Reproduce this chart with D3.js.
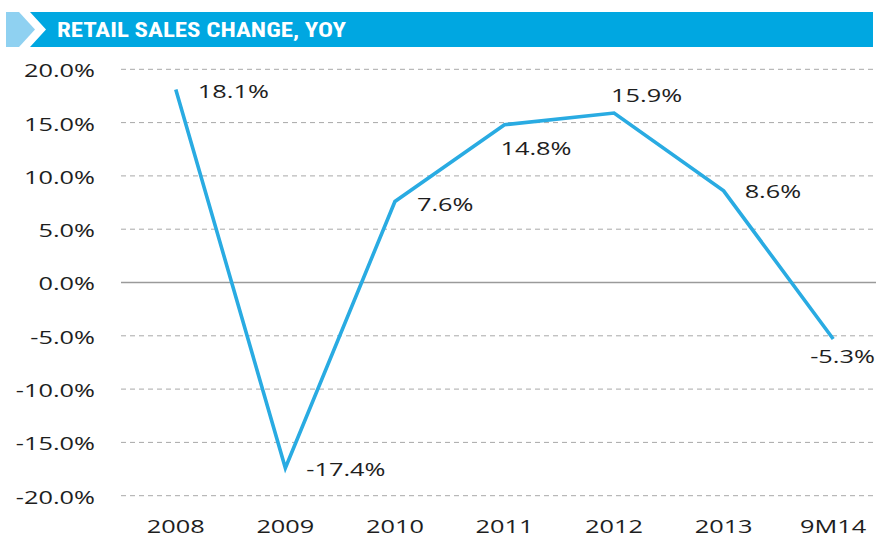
<!DOCTYPE html>
<html>
<head>
<meta charset="utf-8">
<script src="https://cdn.jsdelivr.net/npm/d3@7"></script>
<style>
  html, body { margin: 0; padding: 0; background: #fff; }
  svg { display: block; }
</style>
</head>
<body>
<div id="chart"></div>
<script>
(function () {
  'use strict';

  // Data
  var categories = ['2008', '2009', '2010', '2011', '2012', '2013', '9M14'];
  var values = [18.1, -17.4, 7.6, 14.8, 15.9, 8.6, -5.3];
  var yTicks = [20, 15, 10, 5, 0, -5, -10, -15, -20];
  var title = 'RETAIL SALES CHANGE, YOY';

  // label placement relative to each point (dx, dy)
  var labelOffsets = [[22, 8], [21, 8], [22, 10], [-4, 30], [-3, -11], [21, 7], [-23, 24]];

  var W = 876, H = 537;
  var left = 121, right = 888, top = 69.3, bottom = 495.7;
  var lineColor = '#29abe2';
  var textColor = '#1e1e1e';
  var font = '"Open Sans", Roboto, sans-serif';
  var fontSize = '18.5px';
  var stretch = 1.37; // the source font is very wide

  // plain hyphen for negatives, like the source
  function pct(d) { return d.toFixed(1) + '%'; }

  var svg = d3.select('#chart').append('svg')
    .attr('width', W)
    .attr('height', H);

  // Title banner
  var banner = svg.append('g');
  banner.append('polygon')
    .attr('points', '6,12 19,12 35,29.5 19,47 6,47')
    .attr('fill', '#8fd1f1');
  banner.append('polygon')
    .attr('points', '30,12 873,12 873,47 30,47 46,29.5')
    .attr('fill', '#00a7e1');
  banner.append('text')
    .attr('x', 57)
    .attr('y', 36.5)
    .attr('textLength', 289)
    .attr('lengthAdjust', 'spacingAndGlyphs')
    .style('font-family', '"Liberation Sans Narrow", "Roboto Condensed", "Arial Narrow", Roboto, sans-serif')
    .style('font-weight', 'bold')
    .style('font-size', '20px')
    .style('fill', '#fff')
    .text(title);

  var x = d3.scaleBand().domain(categories).range([left, right]);
  var y = d3.scaleLinear().domain([-20, 20]).range([bottom, top]);

  function cx(c) { return x(c) + x.bandwidth() / 2; }

  function place(px, py) {
    return 'translate(' + px + ',' + py + ') scale(' + stretch + ',1)';
  }

  // Grid lines
  var grid = svg.append('g');
  grid.selectAll('line')
    .data(yTicks)
    .enter()
    .append('line')
    .attr('x1', left)
    .attr('x2', W)
    .attr('y1', function (d) { return y(d); })
    .attr('y2', function (d) { return y(d); })
    .attr('stroke', function (d) { return d === 0 ? '#9a9a9a' : '#a8a8a8'; })
    .attr('stroke-width', function (d) { return d === 0 ? 1.6 : 1; })
    .attr('stroke-dasharray', function (d) { return d === 0 ? null : '5,4'; });

  // Y axis labels
  svg.append('g').selectAll('text')
    .data(yTicks)
    .enter()
    .append('text')
    .attr('transform', function (d) { return place(95, y(d)); })
    .attr('dy', '0.43em')
    .attr('text-anchor', 'end')
    .style('font-family', font)
    .style('font-size', fontSize)
    .style('fill', textColor)
    .text(pct);

  // X axis labels
  svg.append('g').selectAll('text')
    .data(categories)
    .enter()
    .append('text')
    .attr('transform', function (d) { return place(cx(d), 533); })
    .attr('text-anchor', 'middle')
    .style('font-family', font)
    .style('font-size', fontSize)
    .style('fill', textColor)
    .text(function (d) { return d; });

  // Line
  var line = d3.line()
    .x(function (d, i) { return cx(categories[i]); })
    .y(function (d) { return y(d); });

  svg.append('path')
    .datum(values)
    .attr('d', line)
    .attr('fill', 'none')
    .attr('stroke', lineColor)
    .attr('stroke-width', 3.6)
    .attr('stroke-linejoin', 'miter');

  // Data labels
  svg.append('g').selectAll('text')
    .data(values)
    .enter()
    .append('text')
    .attr('transform', function (d, i) {
      return place(cx(categories[i]) + labelOffsets[i][0], y(d) + labelOffsets[i][1]);
    })
    .style('font-family', font)
    .style('font-size', fontSize)
    .style('fill', textColor)
    .text(pct);
})();
</script>
</body>
</html>
